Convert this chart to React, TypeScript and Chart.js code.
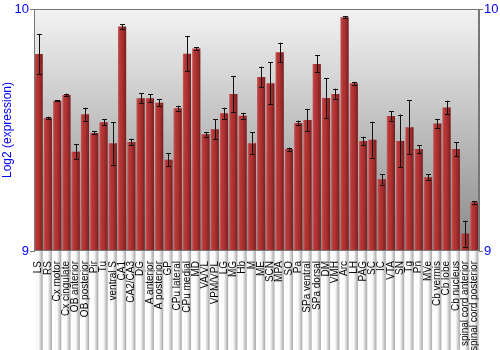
import React, { useEffect, useRef } from "react";
import { Chart, registerables } from "chart.js";

Chart.register(...registerables);

const categories = [
  "LS", "RS", "Cx motor", "Cx cingulate", "OB anterior", "OB posterior", "Pir", "Tu",
  "ventral S", "CA1", "CA2/CA3", "DG", "A anterior", "A posterior", "GP", "CPu lateral",
  "CPu medial", "MD", "VA/VL", "VPM/VPL", "LG", "MG", "Hb", "M", "ME", "SCN", "MPA",
  "SO", "Pa", "SPa ventral", "SPa dorsal", "DM", "VMH", "Arc", "LH", "PAG", "SC", "IC",
  "VTA", "SN", "Tg", "Pn", "MVe", "Cb vermis", "Cb lobe", "Cb nucleus",
  "spinal cord anterior", "spinal cord posterior",
];

const values = [
  9.814, 9.55, 9.621, 9.645, 9.41, 9.565, 9.488, 9.532,
  9.445, 9.928, 9.45, 9.631, 9.631, 9.613, 9.377, 9.59,
  9.815, 9.837, 9.482, 9.503, 9.569, 9.649, 9.559, 9.445, 9.719, 9.693, 9.821,
  9.421, 9.529, 9.541, 9.773, 9.632, 9.649, 9.966, 9.693, 9.455, 9.46, 9.296,
  9.558, 9.455, 9.511, 9.421, 9.305, 9.527, 9.593, 9.421,
  9.072, 9.201,
];

const errors = [
  0.083, 0.005, 0.003, 0.005, 0.031, 0.027, 0.006, 0.012,
  0.088, 0.01, 0.014, 0.02, 0.017, 0.014, 0.027, 0.01,
  0.072, 0.005, 0.01, 0.041, 0.023, 0.074, 0.012, 0.045, 0.043, 0.087, 0.04,
  0.006, 0.01, 0.046, 0.035, 0.081, 0.022, 0.005, 0.006, 0.017, 0.074, 0.022,
  0.019, 0.109, 0.111, 0.016, 0.013, 0.018, 0.028, 0.028,
  0.054, 0.005,
];

const yTicks = [9, 10];
const yTitle = "Log2 (expression)";

const bgPlugin = {
  id: "bgGradient",
  beforeDatasetsDraw(chart: any) {
    const { ctx, chartArea } = chart;
    const g = ctx.createLinearGradient(0, chartArea.top, 0, chartArea.bottom);
    g.addColorStop(0, "#f3f3f3");
    g.addColorStop(1, "#888888");
    ctx.save();
    ctx.fillStyle = g;
    ctx.fillRect(chartArea.left, chartArea.top, chartArea.right - chartArea.left, chartArea.bottom - chartArea.top);
    ctx.restore();
  },
  afterDatasetsDraw(chart: any) {
    const { ctx, chartArea } = chart;
    const meta = chart.getDatasetMeta(0);
    const yScale = chart.scales.y;
    ctx.save();
    meta.data.forEach((el: any) => {
      const w = el.width;
      const left = el.x - w / 2;
      const g = ctx.createLinearGradient(left, 0, left + w, 0);
      g.addColorStop(0, "rgba(255,255,255,0.22)");
      g.addColorStop(0.15, "rgba(255,255,255,0.08)");
      g.addColorStop(0.45, "rgba(0,0,0,0)");
      g.addColorStop(1, "rgba(0,0,0,0.35)");
      ctx.fillStyle = g;
      ctx.fillRect(left, el.y, w, el.base - el.y);
    });
    // error bars
    meta.data.forEach((el: any, i: number) => {
      const v = values[i];
      const e = errors[i];
      const yTop = yScale.getPixelForValue(v + e);
      const yBot = yScale.getPixelForValue(v - e);
      const x = Math.round(el.x) + 0.5;
      ctx.strokeStyle = "#111";
      ctx.lineWidth = 1;
      ctx.beginPath();
      ctx.moveTo(x, yTop);
      ctx.lineTo(x, yBot);
      ctx.moveTo(x - 2.5, Math.round(yTop) + 0.5);
      ctx.lineTo(x + 2.5, Math.round(yTop) + 0.5);
      ctx.moveTo(x - 2.5, Math.round(yBot) + 0.5);
      ctx.lineTo(x + 2.5, Math.round(yBot) + 0.5);
      ctx.stroke();
    });
    // frame
    ctx.strokeStyle = "#777";
    ctx.lineWidth = 1;
    ctx.strokeRect(Math.round(chartArea.left) + 0.5, Math.round(chartArea.top) + 0.5,
      Math.round(chartArea.right - chartArea.left) - 1, Math.round(chartArea.bottom - chartArea.top) - 1);
    ctx.restore();
  },
};

export default function App() {
  const ref = useRef<HTMLCanvasElement>(null);
  useEffect(() => {
    document.body.style.margin = "0";
    const canvas = ref.current!;
    const chart = new Chart(canvas, {
      type: "bar",
      data: {
        labels: categories,
        datasets: [
          {
            data: values,
            backgroundColor: "#b53232",
            borderWidth: 0,
            categoryPercentage: 1,
            barPercentage: 0.88,
          },
        ],
      },
      options: {
        animation: false,
        responsive: false,
        maintainAspectRatio: false,
        layout: { padding: { top: 9, left: 0, right: 0, bottom: 0 } },
        plugins: { legend: { display: false }, tooltip: { enabled: false } },
        scales: {
          x: {
            grid: { display: false },
            border: { display: false },
            ticks: {
              autoSkip: false,
              maxRotation: 90,
              minRotation: 90,
              color: "#000",
              padding: 2,
              font: { family: "Liberation Sans, Arial, sans-serif", size: 10 },
            },
            afterFit(scale: any) {
              scale.height = 99;
            },
          },
          y: {
            position: "left",
            min: 9,
            max: 10,
            afterBuildTicks(scale: any) {
              scale.ticks = yTicks.map((v) => ({ value: v }));
            },
            grid: { drawOnChartArea: false, tickLength: 4, color: "#777" },
            border: { display: true, color: "#777" },
            ticks: {
              color: "#0000ff",
              padding: 1,
              font: { family: "Liberation Sans, Arial, sans-serif", size: 13 },
            },
            title: {
              display: true,
              text: yTitle,
              color: "#0000ff",
              padding: { top: 0, bottom: 0 },
              font: { family: "Liberation Sans, Arial, sans-serif", size: 12 },
            },
            afterFit(scale: any) {
              scale.width = 34;
            },
          },
          y2: {
            position: "right",
            min: 9,
            max: 10,
            afterBuildTicks(scale: any) {
              scale.ticks = yTicks.map((v) => ({ value: v }));
            },
            grid: { drawOnChartArea: false, tickLength: 4, color: "#777" },
            border: { display: true, color: "#777" },
            ticks: {
              color: "#0000ff",
              padding: 1,
              font: { family: "Liberation Sans, Arial, sans-serif", size: 13 },
            },
            afterFit(scale: any) {
              scale.width = 21;
            },
          },
        },
      },
      plugins: [bgPlugin],
    });
    return () => chart.destroy();
  }, []);
  return (
    <div style={{ position: "absolute", left: 0, top: 0, width: 500, height: 350 }}>
      <canvas ref={ref} width={500} height={350} style={{ width: 500, height: 350 }} />
    </div>
  );
}
